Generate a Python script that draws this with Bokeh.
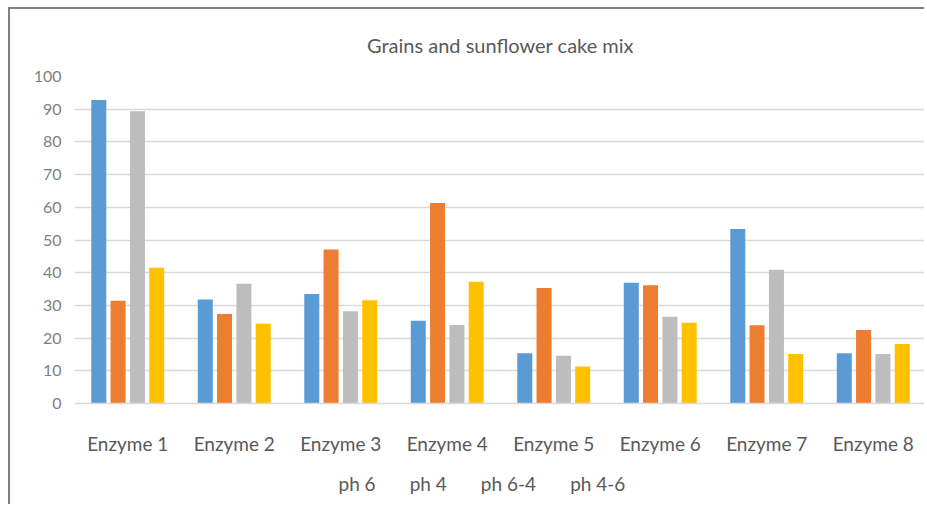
from bokeh.plotting import figure
from bokeh.models import ColumnDataSource, FactorRange, Title
from bokeh.transform import dodge
from bokeh.embed import file_html
from bokeh.resources import INLINE

categories = ["Enzyme 1", "Enzyme 2", "Enzyme 3", "Enzyme 4",
              "Enzyme 5", "Enzyme 6", "Enzyme 7", "Enzyme 8"]
series_names = ["ph 6", "ph 4", "ph 6-4", "ph 4-6"]
ph6 = [92.8, 31.8, 33.5, 25.3, 15.4, 36.9, 53.4, 15.4]
ph4 = [31.4, 27.4, 47.1, 61.3, 35.3, 36.2, 23.9, 22.5]
ph64 = [89.4, 36.6, 28.2, 24.0, 14.6, 26.5, 40.9, 15.1]
ph46 = [41.5, 24.4, 31.6, 37.2, 11.3, 24.7, 15.1, 18.2]
y_ticks = [0, 10, 20, 30, 40, 50, 60, 70, 80, 90, 100]

colors = ["#5B9BD5", "#ED7D31", "#BDBDBD", "#FFC000"]
offsets = [-0.272, -0.091, 0.091, 0.272]
FONT = "Lato"

source = ColumnDataSource(dict(cat=categories, ph6=ph6, ph4=ph4, ph64=ph64, ph46=ph46))

p = figure(width=916, height=497, x_range=FactorRange(*categories, range_padding=0),
           y_range=(0, 100), output_backend="svg", toolbar_location=None,
           min_border_left=64, min_border_right=0, min_border_top=67,
           min_border_bottom=100)
p.styles = {"border-top": "2px solid #808080", "border-left": "2px solid #808080",
            "margin-left": "8px", "margin-top": "7px"}

title = Title(text="Grains and sunflower cake mix", align="center",
              text_font=FONT, text_font_size="20px", text_color="#595959",
              text_font_style="normal", standoff=39)
p.add_layout(title, "above")

for key, col, off in zip(["ph6", "ph4", "ph64", "ph46"], colors, offsets):
    p.vbar(x=dodge("cat", off, range=p.x_range), top=key, width=0.141,
           source=source, fill_color=col, line_color=None)

p.xgrid.grid_line_color = None
p.ygrid.grid_line_color = "#D9D9D9"
p.ygrid.grid_line_width = 1.5
p.outline_line_color = None

p.yaxis.ticker = y_ticks
p.yaxis.axis_line_color = None
p.yaxis.major_tick_line_color = None
p.yaxis.minor_tick_line_color = None
p.yaxis.major_label_text_font = FONT
p.yaxis.major_label_text_font_size = "16px"
p.yaxis.major_label_text_color = "#7F7F7F"
p.yaxis.major_label_standoff = 7

p.xaxis.axis_line_color = "#D9D9D9"
p.xaxis.axis_line_width = 1.5
p.xaxis.major_tick_line_color = None
p.xaxis.minor_tick_line_color = None
p.xaxis.major_label_text_font = FONT
p.xaxis.major_label_text_font_size = "19px"
p.xaxis.major_label_text_color = "#595959"
p.xaxis.major_label_standoff = 22

# series key: the reference shows the series names as text only, without swatches
gap = "\u00a0" * 7
key_text = gap.join(series_names)
key = Title(text=key_text, align="left", offset=264, standoff=24,
            text_font=FONT, text_font_size="19px", text_color="#595959",
            text_font_style="normal")
p.add_layout(key, "below")

open("out.html", "w").write(file_html(p, INLINE))
